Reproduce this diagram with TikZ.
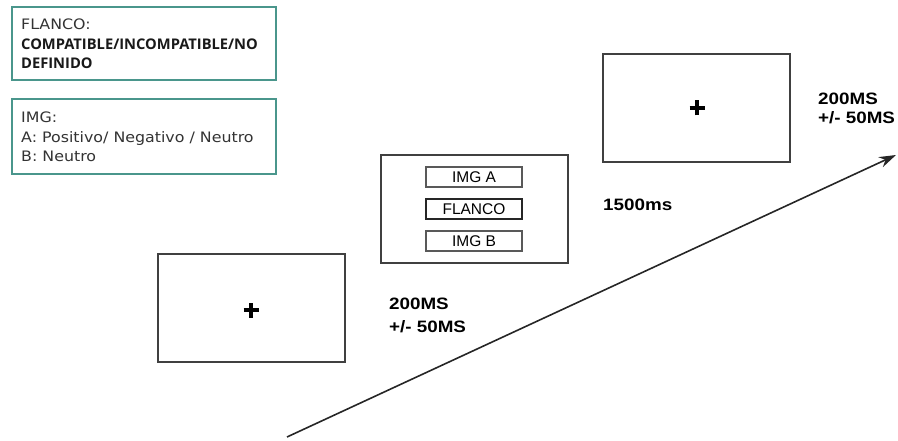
\documentclass[tikz,border=0pt]{standalone}
\usepackage{fontspec}
\setmainfont{Liberation Sans}
\newfontfamily\inforeg{DejaVu Sans}
\newfontfamily\infobold{Open Sans}
\usetikzlibrary{arrows.meta}
\definecolor{tealb}{HTML}{4A968C}
\definecolor{frame}{HTML}{404040}
\newcommand{\wideb}[1]{\scalebox{1.14}[1]{#1}}
\newcommand{\widei}[1]{\scalebox{1.1}[1]{#1}}
\tikzset{
  infobox/.style={draw=tealb, line width=2.6pt, fill=white},
  screen/.style={draw=frame, line width=1.4pt},
  stim/.style={draw=gray!70!black, line width=1.1pt, minimum width=96pt, minimum height=20pt, inner sep=0pt, font=\fontsize{15.5}{17}\selectfont},
  flank/.style={stim, draw=black!85, line width=1.5pt},
  timelabel/.style={anchor=base west, inner sep=0pt, font=\fontsize{16.5}{17}\selectfont\bfseries},
  inforeg/.style={anchor=base west, inner sep=0pt, text=black!80, font=\inforeg\fontsize{14.4}{17}\selectfont},
  infob/.style={anchor=base west, inner sep=0pt, text=black!90, font=\infobold\bfseries\fontsize{14.7}{17}\selectfont},
  fix/.style={line width=4.8pt}
}
\begin{document}
\begin{tikzpicture}[x=1pt,y=-1pt]
\useasboundingbox (0,0) rectangle (898,441);
% info boxes
\draw[infobox] (12,7) rectangle (276,80);
\node[inforeg] (fl1) at (21,30) {\widei{FLANCO:}};
\node[infob] (fl2) at (21,50) {COMPATIBLE/INCOMPATIBLE/NO};
\node[infob] (fl3) at (21,69) {DEFINIDO};
\draw[infobox] (12,99) rectangle (276,174);
\node[inforeg] (im1) at (21,123) {\widei{IMG:}};
\node[inforeg] (im2) at (21,142.5) {\widei{A: Positivo/ Negativo / Neutro}};
\node[inforeg] (im3) at (21,162) {\widei{B: Neutro}};
% screen 1
\draw[screen] (158,254) rectangle (345,362);
\coordinate (c1) at (251,310);
\draw[fix] ([xshift=-7.5pt]c1) -- ([xshift=7.5pt]c1);
\draw[fix] ([yshift=-7.5pt]c1) -- ([yshift=7.5pt]c1);
% screen 2
\draw[screen] (381,155) rectangle (568,263);
\node[stim] (imga) at (474,177) {IMG A};
\node[flank] (flanco) at (474,209) {FLANCO};
\node[stim] (imgb) at (474,241) {IMG B};
% screen 3
\draw[screen] (603,54) rectangle (790,162);
\coordinate (c3) at (697,108);
\draw[fix] ([xshift=-7.5pt]c3) -- ([xshift=7.5pt]c3);
\draw[fix] ([yshift=-7.5pt]c3) -- ([yshift=7.5pt]c3);
% labels
\node[timelabel] (t1a) at (389,309) {\wideb{200MS}};
\node[timelabel] (t1b) at (389,332) {\wideb{+/- 50MS}};
\node[timelabel] (t2) at (603,211) {\wideb{1500ms}};
\node[timelabel] (t3a) at (818,105) {\wideb{200MS}};
\node[timelabel] (t3b) at (818,124) {\wideb{+/- 50MS}};
% time arrow
\coordinate (astart) at (287,437);
\coordinate (aend) at (896,155);
\draw[line width=1.6pt, draw=black!85, -{Stealth[length=17pt,width=11pt]}] (astart) -- (aend);
\end{tikzpicture}
\end{document}
